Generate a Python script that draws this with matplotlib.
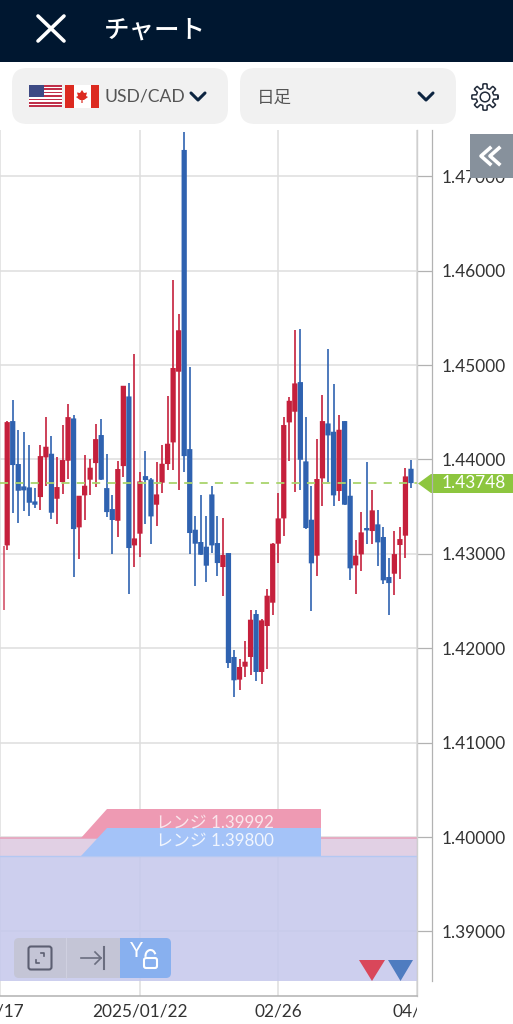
import numpy as np
import matplotlib
matplotlib.use('Agg')
import matplotlib.pyplot as plt
from matplotlib.patches import Rectangle, FancyBboxPatch, Polygon, Arc
from matplotlib.transforms import Bbox

plt.rcParams['font.family'] = ['Lato', 'Noto Sans CJK JP', 'DejaVu Sans']

# USD/CAD daily candles
opens = [1.43089, 1.44406, 1.43951, 1.43714, 1.43703, 1.43555, 1.43601, 1.44021, 1.44060, 1.43583,
         1.43760, 1.43986, 1.44434, 1.43280, 1.43619, 1.43785, 1.43961, 1.44258, 1.43696, 1.43474,
         1.43350, 1.43929, 1.44667, 1.43089, 1.43213, 1.43823, 1.43788, 1.43520, 1.43753, 1.43951,
         1.44180, 1.44929, 1.47278, 1.44109, 1.43255, 1.43125, 1.43075, 1.43629, 1.43114, 1.42860,
         1.43008, 1.41907, 1.41667, 1.41804, 1.41907, 1.42362, 1.41748, 1.42235, 1.42482, 1.43107,
         1.43375, 1.44392, 1.44505, 1.44819, 1.43979, 1.43361, 1.42980, 1.43799, 1.44381, 1.44293,
         1.43665, 1.44406, 1.43615, 1.42877, 1.42994, 1.43273, 1.43241, 1.43312, 1.43178, 1.42754,
         1.42789, 1.43093, 1.43192, 1.43901]
highs = [1.44402, 1.44625, 1.44307, 1.44289, 1.44155, 1.43696, 1.44155, 1.44448, 1.44244, 1.44021,
         1.44360, 1.44590, 1.44466, 1.43615, 1.44049, 1.44007, 1.44378, 1.44427, 1.44056, 1.43619,
         1.43979, 1.44780, 1.44808, 1.45119, 1.43862, 1.44092, 1.43802, 1.43968, 1.44155, 1.44674,
         1.45900, 1.45540, 1.47471, 1.44979, 1.43403, 1.43619, 1.43403, 1.43714, 1.43403, 1.43375,
         1.43008, 1.41984, 1.41889, 1.42080, 1.42408, 1.42408, 1.42313, 1.42630, 1.43114, 1.43643,
         1.44445, 1.44660, 1.45373, 1.45380, 1.44448, 1.43714, 1.44215, 1.44681, 1.45168, 1.44801,
         1.44466, 1.44409, 1.43792, 1.43149, 1.43439, 1.43972, 1.43679, 1.43467, 1.43283, 1.42952,
         1.43245, 1.43283, 1.43908, 1.43996]
lows = [1.43043, 1.43432, 1.43326, 1.43449, 1.43403, 1.43485, 1.43460, 1.43721, 1.43368, 1.43312,
        1.43636, 1.43792, 1.42754, 1.42945, 1.43354, 1.43619, 1.43703, 1.43785, 1.43389, 1.42994,
        1.43178, 1.43809, 1.42574, 1.42856, 1.42966, 1.43319, 1.43103, 1.43290, 1.43640, 1.43891,
        1.43891, 1.43679, 1.43862, 1.42997, 1.42655, 1.42990, 1.42701, 1.43008, 1.42761, 1.42556,
        1.41790, 1.41480, 1.41557, 1.41698, 1.41720, 1.41653, 1.41624, 1.41783, 1.42355, 1.42902,
        1.43185, 1.43979, 1.43651, 1.43672, 1.43266, 1.42390, 1.42761, 1.43509, 1.43756, 1.43502,
        1.43555, 1.43520, 1.42726, 1.42574, 1.42821, 1.43107, 1.43100, 1.42874, 1.42680, 1.42348,
        1.42560, 1.42736, 1.42959, 1.43696]
closes = [1.44395, 1.43940, 1.43668, 1.43672, 1.43541, 1.43520, 1.44035, 1.44134, 1.43435, 1.43707,
          1.43993, 1.44448, 1.43262, 1.43615, 1.43721, 1.43912, 1.44215, 1.43785, 1.43442, 1.43358,
          1.43898, 1.44780, 1.43061, 1.43163, 1.43767, 1.43781, 1.43396, 1.43629, 1.43954, 1.44166,
          1.44968, 1.45368, 1.44035, 1.43220, 1.43107, 1.42990, 1.42874, 1.43089, 1.42902, 1.42987,
          1.41843, 1.41660, 1.41801, 1.41857, 1.42302, 1.41748, 1.42295, 1.42556, 1.43107, 1.43375,
          1.44364, 1.44621, 1.44805, 1.43996, 1.43273, 1.42899, 1.43792, 1.44406, 1.44254, 1.43619,
          1.44314, 1.43520, 1.42846, 1.42980, 1.43227, 1.43248, 1.43460, 1.43121, 1.42719, 1.42690,
          1.42997, 1.43156, 1.43820, 1.43749]
# only the wick of the candle before the first one shows at the left edge
edge_high = 1.43086
edge_low = 1.42405

price_ticks = [1.39, 1.40, 1.41, 1.42, 1.43, 1.44, 1.45, 1.46, 1.47]
date_pos = [-1.3, 24, 49, 74]
date_labels = ['12/17', '2025/01/22', '02/26', '04/02']
last_price = 1.43748
range_hi = 1.39992
range_lo = 1.39800

RED = '#c5203c'
BLUE = '#2f62b0'
GRID = '#dedede'
AXIS = '#b2b2b2'
TXT = '#333333'

x = np.arange(len(opens))
o = np.array(opens)
h = np.array(highs)
l = np.array(lows)
c = np.array(closes)
cols = [RED if c[i] >= o[i] else BLUE for i in range(len(o))]

fig = plt.figure(figsize=(5.13, 10.24), dpi=100, facecolor='white')

# chart, pixel box x 0-417, y 130-995.7
ax = fig.add_axes([0, (1024 - 995.7) / 1024, 417 / 513, (995.7 - 130) / 1024])
ax.set_xlim((0 - 4.33) / 5.57, (417 - 4.33) / 5.57)
ax.set_ylim(1.4 - 158.7 / 9440, 1.4 + 707 / 9440)
ax.set_facecolor('white')
ax.grid(True, color=GRID, lw=1.1, zorder=1)
ax.set_axisbelow(True)
for s in ['top', 'left']:
    ax.spines[s].set_visible(False)
ax.spines['right'].set_color('#cfcfcf')
ax.spines['right'].set_linewidth(1.0)
ax.spines['bottom'].set_color(AXIS)
ax.spines['bottom'].set_linewidth(1.1)

ax.set_xticks(date_pos)
ax.set_xticklabels(date_labels, fontsize=12.4, color=TXT)
ax.tick_params(axis='x', length=0, pad=5.3)
ax.yaxis.tick_right()
ax.set_yticks(price_ticks)
ax.set_yticklabels(['%.5f' % p for p in price_ticks], fontsize=12.4, color=TXT)
ax.tick_params(axis='y', length=10.8, width=0.9, color=AXIS, pad=7)
# date labels are cut off at the plot edges
for t in ax.get_xticklabels():
    t.set_clip_box(Bbox([[0, 0], [417, 1024]]))
    t.set_clip_on(True)

# range bands
ybot = 1.4 - 144 / 9440
ax.fill_between([-2, 76], range_lo, range_hi, color='#dcc8e0', alpha=0.85, lw=0, zorder=2)
ax.fill_between([-2, 76], ybot, range_lo, color='#c6c9ec', alpha=0.88, lw=0, zorder=2)
ax.axhline(range_hi, color='#e6a3bd', lw=1.2, zorder=2)
ax.axhline(range_lo, color='#b4c8f2', lw=1.0, zorder=2)

# candles
ax.vlines(x, l, h, colors=cols, lw=1.2, zorder=3)
bars = ax.bar(x, np.abs(c - o), bottom=np.minimum(o, c), width=0.95, color=cols, lw=0, zorder=3)
for b in bars:
    b.set_snap(False)
ax.vlines([-0.65], edge_low, edge_high, colors=RED, lw=1.15, alpha=0.8, zorder=3)
ax.axhline(last_price, color='#a9d46c', lw=1.3, ls=(0, (4.5, 4)), zorder=4)

# overlay in pixel coordinates
ui = fig.add_axes([0, 0, 1, 1], zorder=5)
ui.set_xlim(0, 513)
ui.set_ylim(1024, 0)
ui.axis('off')
ui.patch.set_alpha(0)

# header
ui.add_patch(Rectangle((0, 0), 513, 62, color='#001730', lw=0))
ui.plot([38, 64], [16, 41], color='white', lw=2.6, solid_capstyle='round')
ui.plot([64, 38], [16, 41], color='white', lw=2.6, solid_capstyle='round')
ui.text(104, 30, 'チャート', color='white', fontsize=18.4, va='center', ha='left',
        family=['Noto Sans CJK JP'], weight='medium')

# selectors
for x0, x1 in [(12, 228), (240, 456)]:
    ui.add_patch(FancyBboxPatch((x0 + 15, 68 + 15), x1 - x0 - 30, 56 - 30,
                                boxstyle='round,pad=15', color='#f1f1f1', lw=0))
# flags
for k in range(13):
    ui.add_patch(Rectangle((29, 85 + k * 22 / 13), 33, 22 / 13,
                           color='#c0304a' if k % 2 == 0 else 'white', lw=0))
ui.add_patch(Rectangle((29, 85), 15, 12, color='#3d4a84', lw=0))
ui.add_patch(Rectangle((65, 85), 34, 23, color='white', lw=0))
ui.add_patch(Rectangle((65, 85), 8.5, 23, color='#dc2a20', lw=0))
ui.add_patch(Rectangle((90.5, 85), 8.5, 23, color='#dc2a20', lw=0))
ui.add_patch(Polygon([(82, 90), (84, 93), (87, 92.5), (86, 96), (88, 97), (84, 100), (82.6, 100),
                      (82.6, 103), (81.4, 103), (81.4, 100), (80, 100), (76, 97), (78, 96),
                      (77, 92.5), (80, 93)], color='#dc2a20', lw=0))
ui.text(105, 97, 'USD/CAD', color='#555555', fontsize=12.6, va='center', ha='left')
ui.text(257, 98, '日足', color='#555555', fontsize=12.6, va='center', ha='left',
        family=['Noto Sans CJK JP'])
for cx in [198, 426]:
    ui.plot([cx - 7, cx, cx + 7], [93, 100, 93], color='#0c2440', lw=2.2,
            solid_capstyle='round', solid_joinstyle='round')

# gear
a = np.linspace(0, 2 * np.pi, 241)
r = 11 + 2.2 * np.clip(3 * np.cos(8 * a), -1, 1)
ui.plot(485 + r * np.cos(a), 97 + r * np.sin(a), color='#222b3a', lw=1.1)
ui.add_patch(plt.Circle((485, 97), 4.8, fill=False, ec='#222b3a', lw=1.1))

# collapse button
ui.add_patch(Rectangle((470, 134), 43, 44, color='#87919c', lw=0))
for dx in [0, 9]:
    ui.plot([490 + dx, 481 + dx, 490 + dx], [148, 156, 164], color='white', lw=2.6)

# axis line and last price tag
ui.plot([432, 432], [130, 981], color=AXIS, lw=0.9)
ui.add_patch(Polygon([(418, 483.5), (431, 474), (513, 474), (513, 493), (431, 493)],
                     color='#8dc63f', lw=0))
ui.text(442, 483.5, '%.5f' % last_price, color='white', fontsize=12.4, va='center', ha='left')

# range tags
ui.add_patch(Polygon([(81, 838), (107, 809), (321, 809), (321, 838)], color='#ee9ab3', lw=0))
ui.add_patch(Polygon([(81, 856), (107, 828), (321, 828), (321, 856)], color='#a4c3f8', lw=0))
ui.text(215, 823, 'レンジ 1.39992', color='white', fontsize=12.2, va='center', ha='center', alpha=0.75)
ui.text(215, 841, 'レンジ 1.39800', color='white', fontsize=12.2, va='center', ha='center', alpha=0.85)

# buttons
ui.add_patch(FancyBboxPatch((19, 943), 140, 30, boxstyle='round,pad=5', color='#c4c5d6', lw=0))
ui.add_patch(FancyBboxPatch((125, 943), 41, 30, boxstyle='round,pad=5', color='#88b0ef', lw=0))
ui.add_patch(Rectangle((120, 938), 10, 40, color='#88b0ef', lw=0))
ui.plot([66, 66], [938, 978], color='#cfd0e0', lw=0.8)
ui.add_patch(FancyBboxPatch((31, 949), 18, 18, boxstyle='round,pad=2.5', fill=False,
                            ec='#5c5f72', lw=1.5))
ui.plot([36, 36, 39], [960, 963, 963], color='#5c5f72', lw=1.2)
ui.plot([41, 44, 44], [953, 953, 956], color='#5c5f72', lw=1.2)
ui.plot([81, 101], [958, 958], color='#6b6e80', lw=1.2)
ui.plot([95, 101, 95], [952, 958, 964], color='#6b6e80', lw=1.2)
ui.plot([104, 104], [947, 969], color='#6b6e80', lw=1.5)
ui.text(136, 951, 'Y', color='white', fontsize=15, va='center', ha='center')
ui.add_patch(FancyBboxPatch((146, 960), 9, 6, boxstyle='round,pad=2', fill=False, ec='white', lw=1.5))
ui.add_patch(Arc((150.5, 956), 10, 12, theta1=170, theta2=340, color='white', lw=1.5))

# bottom triangles
ui.add_patch(Polygon([(359, 960), (385, 960), (372, 981)], color='#d9475a', lw=0))
ui.add_patch(Polygon([(388, 960), (413, 960), (400.5, 981)], color='#4f7cc0', lw=0))

fig.savefig('out.png', dpi=100)
